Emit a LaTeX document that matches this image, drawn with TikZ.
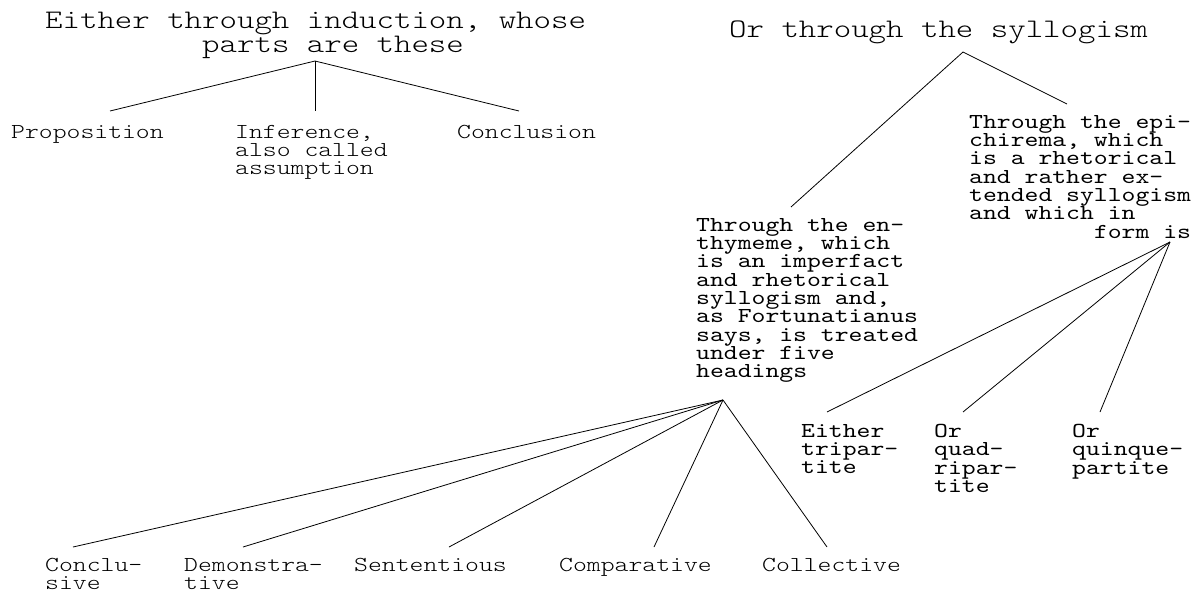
\documentclass[tikz,border=0pt]{standalone}
\usepackage{fontspec}
\newfontfamily\treefont{lmmonolt10-regular.otf}[FakeStretch=1.24]
\newfontfamily\treefontdark{lmmono10-regular.otf}[FakeStretch=1.24]
\tikzset{
  headtext/.style={font={\treefont\fontsize{26.8}{24.5}\selectfont\lineskiplimit=-50pt}, inner sep=0pt, anchor=north west, align=left},
  leaftext/.style={font={\treefont\fontsize{21.3}{18.3}\selectfont\lineskiplimit=-50pt}, inner sep=0pt, anchor=north west, align=left},
  darktext/.style={leaftext, font={\treefontdark\fontsize{21.3}{18.3}\selectfont\lineskiplimit=-50pt}},
  branch/.style={black, line width=0.8pt}
}
\begin{document}
\begin{tikzpicture}[x=1pt, y=-1pt]
    \useasboundingbox (0,0) rectangle (1203,595);
    % Left tree: induction
    \node[headtext] (induct) at (45,11.6) {Either through induction, whose\\\hphantom{Either th}parts are these};
    \node[leaftext] (propos) at (11,125) {Proposition};
    \node[leaftext] (infer) at (235,125) {Inference,\\also called\\assumption};
    \node[leaftext] (concl) at (457,125) {Conclusion};
    \coordinate (indapex) at (315,61);
    \coordinate (propos-in) at (110,111); \coordinate (infer-in) at (315,111); \coordinate (concl-in) at (519,111);
    \draw[branch] (indapex) -- (propos-in);
    \draw[branch] (indapex) -- (infer-in);
    \draw[branch] (indapex) -- (concl-in);
    % Right tree: syllogism
    \node[headtext] (syllog) at (729,20.6) {Or through the syllogism};
    \node[darktext] (enthym) at (696,218) {Through the en-\\thymeme, which\\is an imperfact\\and rhetorical\\syllogism and,\\as Fortunatianus\\says, is treated\\under five\\headings};
    \node[darktext] (epichir) at (969,115) {Through the epi-\\chirema, which\\is a rhetorical\\and rather ex-\\tended syllogism\\and which in\\\hphantom{and which}form is};
    \coordinate (sylapex) at (963,52);
    \coordinate (enthym-in) at (791,207); \coordinate (epichir-in) at (1067,104);
    \draw[branch] (sylapex) -- (enthym-in);
    \draw[branch] (sylapex) -- (epichir-in);
    % Enthymeme: five headings
    \node[leaftext] (conclus) at (45,558) {Conclu-\\sive};
    \node[leaftext] (demonst) at (184,558) {Demonstra-\\tive};
    \node[leaftext] (senten) at (354,558) {Sententious};
    \node[leaftext] (compar) at (559,558) {Comparative};
    \node[leaftext] (collect) at (762,558) {Collective};
    \coordinate (entapex) at (723,400);
    \coordinate (conclus-in) at (73,547); \coordinate (demonst-in) at (243,547); \coordinate (senten-in) at (449,547);
    \coordinate (compar-in) at (654,547); \coordinate (collect-in) at (827,547);
    \foreach \k in {conclus,demonst,senten,compar,collect}
        \draw[branch] (entapex) -- (\k-in);
    % Epichirema: three forms
    \node[darktext] (tripart) at (801,424) {Either\\tripar-\\tite};
    \node[darktext] (quadri) at (934,424) {Or\\quad-\\ripar-\\tite};
    \node[darktext] (quinque) at (1072,424) {Or\\quinque-\\partite};
    \coordinate (epiapex) at (1170,242);
    \coordinate (tripart-in) at (827,412); \coordinate (quadri-in) at (963,412); \coordinate (quinque-in) at (1100,412);
    \foreach \k in {tripart,quadri,quinque}
        \draw[branch] (epiapex) -- (\k-in);
\end{tikzpicture}
\end{document}
